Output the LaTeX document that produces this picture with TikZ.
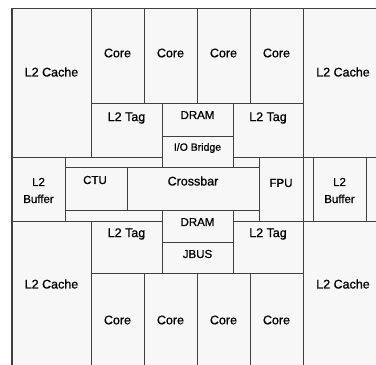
\documentclass[tikz,border=0pt]{standalone}
\usepackage{fontspec}
\setmainfont{Liberation Sans}[RawFeature={embolden=0.8}]
\begin{document}
\begin{tikzpicture}[x=1pt,y=-1pt,
    blk/.style={draw=black!75,line width=1pt,fill=black!3},
    big/.style={font=\fontsize{12.5}{14}\selectfont},
    mid/.style={font=\fontsize{11.5}{17}\selectfont,align=center},
    tiny/.style={font=\fontsize{10.5}{12}\selectfont}]
    \useasboundingbox (0,0) rectangle (376,365);
    \clip (0,0) rectangle (376,365);
    % top half
    \draw[blk] (12,8) rectangle (91,157);
    \foreach \x in {91,144,197,250} { \draw[blk] (\x,8) rectangle (\x+53,103); }
    \draw[blk] (303,8) rectangle (390,157);
    \draw[blk] (91,103) rectangle (162,157);
    \draw[blk] (233,103) rectangle (303,157);
    % middle band
    \draw[blk] (12,157) rectangle (65,221);
    \draw[blk] (65,157) rectangle (259,221);
    \draw[blk] (162,103) rectangle (233,136);
    \draw[blk] (162,136) rectangle (233,167);
    \draw[blk] (65,167) rectangle (127,210);
    \draw[blk] (127,167) rectangle (259,210);
    \draw[blk] (259,157) rectangle (303,221);
    \draw[blk] (303,157) rectangle (313,221);
    \draw[blk] (313,157) rectangle (366,221);
    \draw[blk] (366,157) rectangle (390,221);
    \draw[blk] (162,210) rectangle (233,242);
    \draw[blk] (162,242) rectangle (233,273);
    % bottom half
    \draw[blk] (12,221) rectangle (91,380);
    \draw[blk] (91,221) rectangle (162,273);
    \draw[blk] (233,221) rectangle (303,273);
    \foreach \x in {91,144,197,250} { \draw[blk] (\x,273) rectangle (\x+53,380); }
    \draw[blk] (303,221) rectangle (390,380);
    % labels
    \node[big] (l2tl) at (51.5,72) {L2 Cache};
    \node[big] (l2tr) at (343,72) {L2 Cache};
    \node[big] (l2bl) at (51.5,284) {L2 Cache};
    \node[big] (l2br) at (343,284) {L2 Cache};
    \foreach \x/\n in {91/a,144/b,197/c,250/d} {
      \node[big] (core\n) at (\x+26.5,53) {Core};
      \node[big] (core\n2) at (\x+26.5,320) {Core};
    }
    \node[big] (tagtl) at (126.5,118) {L2 Tag};
    \node[big] (tagtr) at (268,118) {L2 Tag};
    \node[big] (tagbl) at (126.5,234) {L2 Tag};
    \node[big] (tagbr) at (268,234) {L2 Tag};
    \node[mid] (dramt) at (197.5,115) {DRAM};
    \node[tiny] (iob) at (197.5,148) {I/O Bridge};
    \node[mid] (dramb) at (197.5,222) {DRAM};
    \node[mid] (jbus) at (197.5,254) {JBUS};
    \node[mid] (bufl) at (38.5,190.5) {L2\\Buffer};
    \node[mid] (bufr) at (339.5,190.5) {L2\\Buffer};
    \node[mid] (ctu) at (95,180) {CTU};
    \node[big] (xbar) at (193,181) {Crossbar};
    \node[mid] (fpu) at (281,183) {FPU};
  \end{tikzpicture}
\end{document}
